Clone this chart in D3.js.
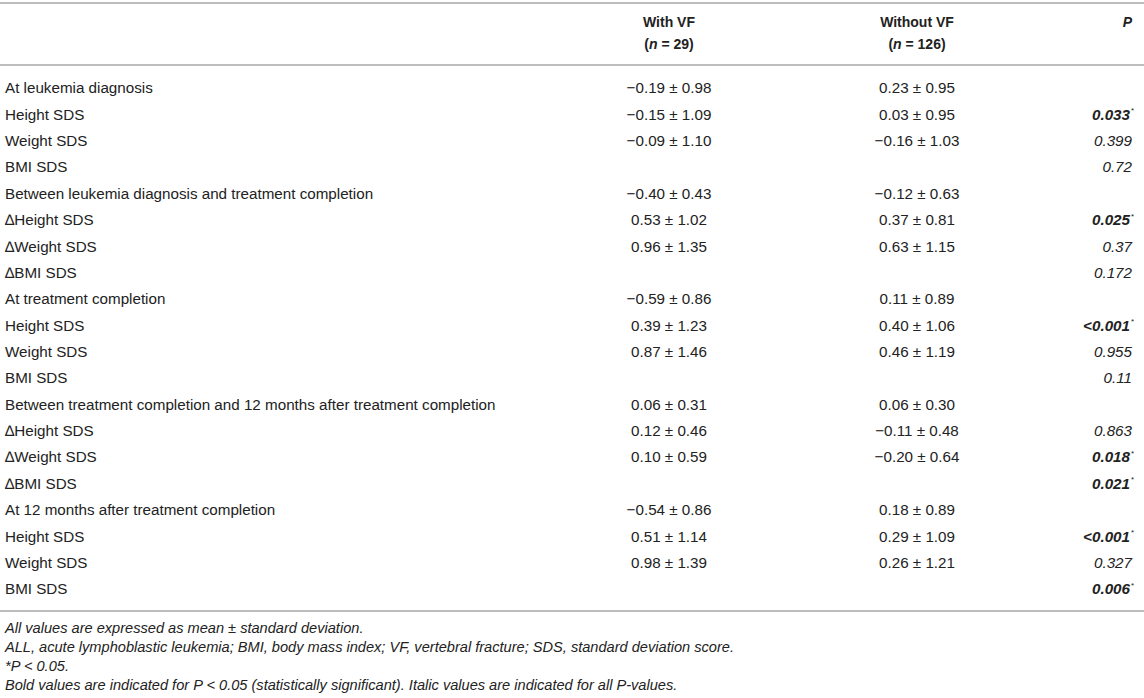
<!DOCTYPE html>
<meta charset="utf-8">
<style>
  body { margin: 0; background: #fff; }
  text {
    font-family: "Liberation Sans", Arial, sans-serif;
    font-size: 15.2px;
    fill: #222;
  }
  .head { font-weight: bold; font-size: 14px; }
  .pval { font-style: italic; }
  .sig { font-weight: bold; }
  .note { font-style: italic; font-size: 14.6px; }
  .rule { stroke: #bdbdbd; stroke-width: 2px; }
</style>
<svg width="1144" height="698"></svg>
<script src="https://d3js.org/d3.v7.min.js"></script>
<script>

  var rowLabels = [
    "At leukemia diagnosis", "Height SDS", "Weight SDS", "BMI SDS",
    "Between leukemia diagnosis and treatment completion", "\u2206Height SDS", "\u2206Weight SDS", "\u2206BMI SDS",
    "At treatment completion", "Height SDS", "Weight SDS", "BMI SDS",
    "Between treatment completion and 12 months after treatment completion", "\u2206Height SDS", "\u2206Weight SDS", "\u2206BMI SDS",
    "At 12 months after treatment completion", "Height SDS", "Weight SDS", "BMI SDS"
  ];

  var withVF = [
    "\u22120.19 \u00b1 0.98", "\u22120.15 \u00b1 1.09", "\u22120.09 \u00b1 1.10", "",
    "\u22120.40 \u00b1 0.43", "0.53 \u00b1 1.02", "0.96 \u00b1 1.35", "",
    "\u22120.59 \u00b1 0.86", "0.39 \u00b1 1.23", "0.87 \u00b1 1.46", "",
    "0.06 \u00b1 0.31", "0.12 \u00b1 0.46", "0.10 \u00b1 0.59", "",
    "\u22120.54 \u00b1 0.86", "0.51 \u00b1 1.14", "0.98 \u00b1 1.39", ""
  ];

  var withoutVF = [
    "0.23 \u00b1 0.95", "0.03 \u00b1 0.95", "\u22120.16 \u00b1 1.03", "",
    "\u22120.12 \u00b1 0.63", "0.37 \u00b1 0.81", "0.63 \u00b1 1.15", "",
    "0.11 \u00b1 0.89", "0.40 \u00b1 1.06", "0.46 \u00b1 1.19", "",
    "0.06 \u00b1 0.30", "\u22120.11 \u00b1 0.48", "\u22120.20 \u00b1 0.64", "",
    "0.18 \u00b1 0.89", "0.29 \u00b1 1.09", "0.26 \u00b1 1.21", ""
  ];

  var pValues = [
    "", "0.033", "0.399", "0.72",
    "", "0.025", "0.37", "0.172",
    "", "<0.001", "0.955", "0.11",
    "", "0.863", "0.018", "0.021",
    "", "<0.001", "0.327", "0.006"
  ];

  var pSignificant = [
    false, true, false, false,
    false, true, false, false,
    false, true, false, false,
    false, false, true, true,
    false, true, false, true
  ];

  var headers = [
    { col: "with", line1: "With VF", n: "29" },
    { col: "without", line1: "Without VF", n: "126" }
  ];

  var notes = [
    "All values are expressed as mean \u00b1 standard deviation.",
    "ALL, acute lymphoblastic leukemia; BMI, body mass index; VF, vertebral fracture; SDS, standard deviation score.",
    "*P < 0.05.",
    "Bold values are indicated for P < 0.05 (statistically significant). Italic values are indicated for all P-values."
  ];

  var svg = d3.select("svg"),
    width = +svg.attr("width");

  var rows = rowLabels.map(function (d, i) {
    return { label: d, a: withVF[i], b: withoutVF[i], p: pValues[i], sig: pSignificant[i] };
  });

  // column positions
  var x = d3.scaleOrdinal()
    .domain(["label", "with", "without", "p"])
    .range([5, 669, 917, 1131]);

  // row positions
  var y = d3.scalePoint()
    .domain(d3.range(rows.length))
    .range([88, 589]);

  // rules
  [3, 65, 611].forEach(function (yy) {
    svg.append("line").attr("class", "rule")
      .attr("x1", 0).attr("x2", width).attr("y1", yy).attr("y2", yy);
  });

  // header
  headers.forEach(function (h) {
    svg.append("text").attr("class", "head")
      .attr("x", x(h.col)).attr("y", 22).attr("dy", "0.35em")
      .attr("text-anchor", "middle").text(h.line1);
    var t = svg.append("text").attr("class", "head")
      .attr("x", x(h.col)).attr("y", 44).attr("dy", "0.35em")
      .attr("text-anchor", "middle");
    t.append("tspan").text("(");
    t.append("tspan").style("font-style", "italic").text("n");
    t.append("tspan").text(" = " + h.n + ")");
  });
  svg.append("text").attr("class", "head")
    .style("font-style", "italic")
    .attr("x", x("p") + 1).attr("y", 22).attr("dy", "0.35em")
    .attr("text-anchor", "end").text("P");

  var g = svg.selectAll("g.row")
    .data(rows)
    .join("g")
    .attr("class", "row")
    .attr("transform", function (d, i) { return "translate(0," + y(i) + ")"; });

  g.append("text")
    .attr("x", x("label")).attr("dy", "0.35em")
    .text(function (d) { return d.label; });

  g.append("text")
    .attr("x", x("with")).attr("dy", "0.35em")
    .attr("text-anchor", "middle")
    .text(function (d) { return d.a; });

  g.append("text")
    .attr("x", x("without")).attr("dy", "0.35em")
    .attr("text-anchor", "middle")
    .text(function (d) { return d.b; });

  g.append("text")
    .attr("class", function (d) { return d.sig ? "pval sig" : "pval"; })
    .attr("x", function (d) { return d.sig ? x("p") - 1 : x("p") + 1; })
    .attr("dy", "0.35em")
    .attr("text-anchor", "end")
    .text(function (d) { return d.p; });

  g.filter(function (d) { return d.sig; })
    .append("text")
    .attr("x", x("p")).attr("dy", "-0.15em")
    .style("font-size", "8px")
    .text("*");

  // footnotes
  var ny = d3.scaleLinear().domain([0, notes.length - 1]).range([628, 685]);
  svg.selectAll("text.note")
    .data(notes)
    .join("text")
    .attr("class", "note")
    .attr("x", 5)
    .attr("y", function (d, i) { return ny(i); })
    .attr("dy", "0.35em")
    .text(function (d) { return d; });

</script>
